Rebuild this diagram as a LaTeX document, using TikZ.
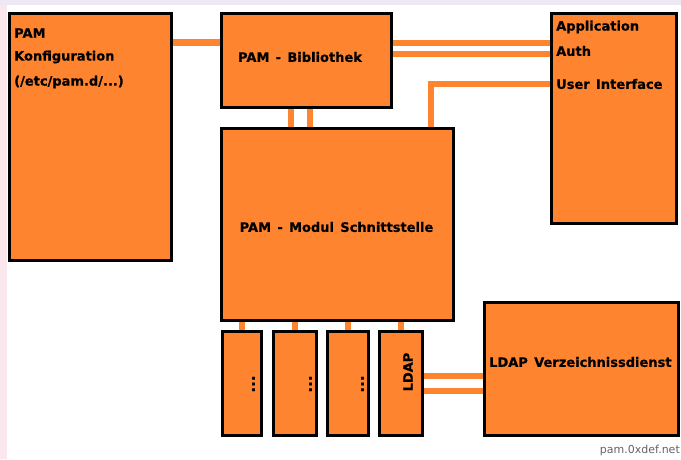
\documentclass[tikz,border=0pt]{standalone}
\usepackage{fontspec}
\setmainfont[WordSpace=1.4,BoldFeatures={FakeBold=0.6}]{DejaVu Sans}
\usetikzlibrary{backgrounds}
\definecolor{pamorange}{RGB}{255,132,48}
\definecolor{toplav}{RGB}{238,232,244}
\definecolor{leftpink}{RGB}{251,232,238}
\definecolor{wmgray}{RGB}{100,100,100}
\begin{document}
\begin{tikzpicture}[x=1pt,y=-1pt,
  box/.style={draw=black,fill=pamorange,line width=3pt,rectangle,inner sep=0pt},
  lbl/.style={font=\fontsize{13}{16}\bfseries\selectfont,inner sep=0pt,text=black},
  dots/.style={font=\fontsize{15}{16}\bfseries\selectfont,inner sep=0pt,text=black,rotate=90},
  conn/.style={draw=pamorange,line width=6.5pt}]
\useasboundingbox (0,0) rectangle (681,459);
% boxes
\node[box,minimum width=162pt,minimum height=247pt] (konf) at (90.5,137) {};
\node[box,minimum width=170pt,minimum height=94pt] (bib) at (306.5,60.5) {};
\node[box,minimum width=125pt,minimum height=210pt] (app) at (614,118.5) {};
\node[box,minimum width=232pt,minimum height=192pt] (modul) at (337.5,224.5) {};
\node[box,minimum width=39pt,minimum height=104pt] (s1) at (242,383.5) {};
\node[box,minimum width=43pt,minimum height=104pt] (s2) at (295,383.5) {};
\node[box,minimum width=41pt,minimum height=104pt] (s3) at (348,383.5) {};
\node[box,minimum width=43pt,minimum height=104pt] (s4) at (401,383.5) {};
\node[box,minimum width=194pt,minimum height=133pt] (ldapv) at (581.5,369) {};
% texts
\node[lbl,anchor=west] (t1) at (14,33) {PAM};
\node[lbl,anchor=west] (t2) at (14,57) {Konfiguration};
\node[lbl,anchor=west] (t3) at (14,82) {(/etc/pam.d/...)};
\node[lbl] (tb) at (300,57) {PAM - Bibliothek};
\node[lbl,anchor=west] (ta1) at (556,27) {Application};
\node[lbl,anchor=west] (ta2) at (556,51) {Auth};
\node[lbl,anchor=west] (ta3) at (556,84) {User Interface};
\node[lbl] (tm) at (336.5,227) {PAM - Modul Schnittstelle};
\node[dots] (d1) at (253.5,384) {...};
\node[dots] (d2) at (310.5,384) {...};
\node[dots] (d3) at (362.5,384) {...};
\node[lbl,rotate=90] (tl) at (408,372) {LDAP};
\node[lbl,anchor=west] (tv) at (489,362) {LDAP Verzeichnissdienst};
\node[font=\fontsize{11}{13}\selectfont,text=wmgray,anchor=east,inner sep=0pt] (wm) at (680,450) {pam.0xdef.net};
% connectors and page background
\begin{scope}[on background layer]
\fill[white] (0,0) rectangle (681,459);
\fill[toplav] (0,0) rectangle (681,5);
\fill[leftpink] (0,5) rectangle (7,459);
\draw[conn] (konf.east |- 0,42.5) -- (bib.west |- 0,42.5);
\draw[conn,line width=6pt] (bib.east |- 0,42.5) -- (app.west |- 0,42.5);
\draw[conn,line width=6pt] (bib.east |- 0,54) -- (app.west |- 0,54);
\draw[conn,line width=6pt] (app.west |- 0,84) -| (modul.north -| 431,0);
\draw[conn,line width=6pt] (bib.south -| 291,0) -- (modul.north -| 291,0);
\draw[conn,line width=6pt] (bib.south -| 310,0) -- (modul.north -| 310,0);
\draw[conn] (modul.south -| s1.north) -- (s1.north);
\draw[conn] (modul.south -| s2.north) -- (s2.north);
\draw[conn] (modul.south -| s3.north) -- (s3.north);
\draw[conn] (modul.south -| s4.north) -- (s4.north);
\draw[conn,line width=6pt] (s4.east |- 0,376) -- (ldapv.west |- 0,376);
\draw[conn,line width=6pt] (s4.east |- 0,391) -- (ldapv.west |- 0,391);
\end{scope}
\end{tikzpicture}
\end{document}
